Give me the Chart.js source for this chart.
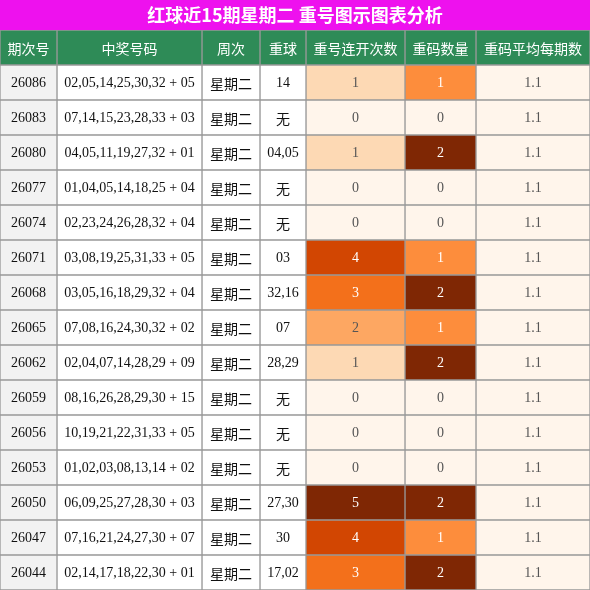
<!DOCTYPE html>
<html><head><meta charset="utf-8">
<script src="https://cdn.jsdelivr.net/npm/chart.js@4/dist/chart.umd.min.js"></script>
<style>html,body{margin:0;padding:0;background:#fff}#wrap{width:590px;height:590px}</style>
</head><body><div id="wrap"><canvas id="c"></canvas></div>
<script>
// table data
const headers = ['期次号', '中奖号码', '周次', '重球', '重号连开次数', '重码数量', '重码平均每期数'];
const periods = ['26086','26083','26080','26077','26074','26071','26068','26065','26062','26059','26056','26053','26050','26047','26044'];
const numbers = ['02,05,14,25,30,32 + 05','07,14,15,23,28,33 + 03','04,05,11,19,27,32 + 01','01,04,05,14,18,25 + 04','02,23,24,26,28,32 + 04','03,08,19,25,31,33 + 05','03,05,16,18,29,32 + 04','07,08,16,24,30,32 + 02','02,04,07,14,28,29 + 09','08,16,26,28,29,30 + 15','10,19,21,22,31,33 + 05','01,02,03,08,13,14 + 02','06,09,25,27,28,30 + 03','07,16,21,24,27,30 + 07','02,14,17,18,22,30 + 01'];
const weekdays = periods.map(() => '星期二');
const repeats = ['14','无','04,05','无','无','03','32,16','07','28,29','无','无','无','27,30','30','17,02'];
const streaks = [1,0,1,0,0,4,3,2,1,0,0,0,5,4,3];
const counts = [1,0,2,0,0,1,2,1,2,0,0,0,2,1,2];
const averages = periods.map(() => 1.1);

// layout (column edges in px)
const edges = [0, 57, 202, 260, 306, 405, 476, 590];
const streakColors = ['#fff5eb', '#fdd9b4', '#fda762', '#f3701b', '#d24602', '#7f2704'];
const countColors = ['#fff5eb', '#fd8d3c', '#7f2704'];

const rowLabels = ['header'].concat(periods);
const columns = [
  periods, numbers, weekdays, repeats,
  streaks.map(String), counts.map(String), averages.map(v => v.toFixed(1))
];
const cellBg = (c, i) => {
  if (c === 0) return '#f2f2f2';
  if (c === 4) return streakColors[streaks[i]];
  if (c === 5) return countColors[counts[i]];
  if (c === 6) return '#fff5eb';
  return '#ffffff';
};
const cellFg = (c, i) => {
  if (c === 4 && streaks[i] >= 3) return '#ffffff';
  if (c === 5 && counts[i] >= 1) return '#ffffff';
  if (c === 4 || c === 5 || c === 6) return '#555555';
  return '#111111';
};

const datasets = columns.map((col, c) => ({
  data: rowLabels.map(() => [edges[c], edges[c + 1]]),
  texts: [headers[c]].concat(col),
  backgroundColor: rowLabels.map((_, r) => r === 0 ? '#2e8b57' : cellBg(c, r - 1)),
  fg: rowLabels.map((_, r) => r === 0 ? '#ffffff' : cellFg(c, r - 1)),
  borderColor: '#999999',
  borderWidth: 1,
  borderSkipped: false,
  barPercentage: 1,
  categoryPercentage: 1,
  grouped: false
}));

const tablePlugin = {
  id: 'tableText',
  beforeDraw(chart) {
    const ctx = chart.ctx;
    ctx.save();
    ctx.fillStyle = '#ee11ee';
    ctx.fillRect(0, 0, 590, 30);
    ctx.fillStyle = '#ffffff';
    ctx.font = 'bold 18px "Noto Sans CJK SC", sans-serif';
    ctx.textAlign = 'center';
    ctx.textBaseline = 'middle';
    ctx.fillText('红球近15期星期二 重号图示图表分析', 295, 15);
    ctx.restore();
  },
  afterDatasetsDraw(chart) {
    const ctx = chart.ctx;
    ctx.save();
    ctx.textAlign = 'center';
    ctx.textBaseline = 'middle';
    chart.data.datasets.forEach((ds, c) => {
      chart.getDatasetMeta(c).data.forEach((el, r) => {
        const t = ds.texts[r];
        const cjk = /[\u4e00-\u9fff]/.test(t);
        ctx.font = (cjk ? '14px "Noto Sans CJK SC"' : '14px "Liberation Serif"');
        ctx.fillStyle = ds.fg[r];
        ctx.fillText(t, (el.x + el.base) / 2, el.y + 1);
      });
    });
    ctx.restore();
  }
};

new Chart(document.getElementById('c'), {
  type: 'bar',
  data: { labels: rowLabels, datasets: datasets },
  options: {
    indexAxis: 'y',
    responsive: true,
    maintainAspectRatio: false,
    animation: false,
    layout: { padding: { top: 30, left: 0, right: 0, bottom: 0 } },
    plugins: { legend: { display: false }, tooltip: { enabled: false } },
    scales: {
      x: { type: 'linear', min: 0, max: 590, display: false },
      y: { display: false }
    }
  },
  plugins: [tablePlugin]
});
</script>
</body></html>
